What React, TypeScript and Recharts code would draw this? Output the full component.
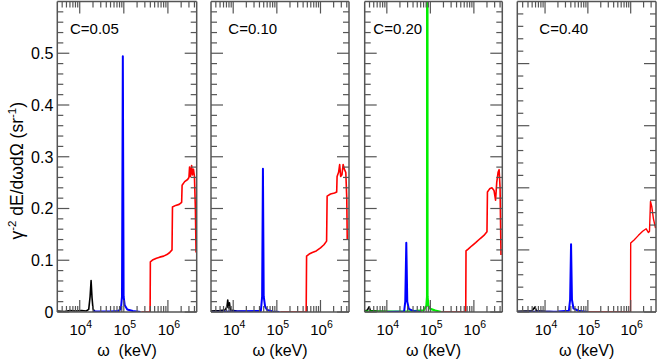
import React from 'react';
import { LineChart, Line, XAxis, YAxis } from 'recharts';

const FONT = '"Liberation Sans", Arial, Helvetica, sans-serif';
const FRAME = '#555555';

type Pt = [number, number];

// ---------- data (omega in keV, y = gamma^-2 dE/dw dOmega) ----------
// C = 0.05
const black005: Pt[] = [[3100, 0.002], [4500, 0.001], [6000, 0.003], [8000, 0.002], [1.1e4, 0.003], [1.4e4, 0.002], [1.6e4, 0.005], [1.72e4, 0.03], [1.81e4, 0.061], [1.9e4, 0.028], [2.0e4, 0.006], [2.2e4, 0.001]];
const blue005: Pt[] = [[2.0e4, 0.001], [5e4, 0.001], [7.5e4, 0.002], [8.6e4, 0.006], [9.1e4, 0.03], [9.5e4, 0.494], [9.9e4, 0.03], [1.05e5, 0.013], [1.2e5, 0.005], [1.6e5, 0.002], [2.4e5, 0.0]];
const red005: Pt[] = [[2.5e5, 0], [3.95e5, 0], [4.0e5, 0.097], [4.6e5, 0.101], [5.5e5, 0.104], [6.5e5, 0.106], [8e5, 0.108], [9.5e5, 0.111], [1.1e6, 0.115], [1.24e6, 0.12], [1.27e6, 0.203], [1.5e6, 0.206], [1.8e6, 0.208], [2.05e6, 0.212], [2.1e6, 0.245], [2.4e6, 0.252], [2.8e6, 0.256], [3.0e6, 0.26], [3.1e6, 0.28], [3.25e6, 0.262], [3.45e6, 0.283], [3.6e6, 0.265], [3.8e6, 0.276], [4.0e6, 0.262], [4.2e6, 0.2], [4.35e6, 0.115]];

// C = 0.10
const black010: Pt[] = [[3100, 0.002], [5e3, 0.003], [6.5e3, 0.004], [7.2e3, 0.01], [7.5e3, 0.023], [7.8e3, 0.008], [8.2e3, 0.018], [8.6e3, 0.004], [1.2e4, 0.002], [2e4, 0.001], [4e4, 0]];
const blue010: Pt[] = [[3100, 0], [1e4, 0.001], [4.3e4, 0.002], [4.6e4, 0.03], [4.8e4, 0.277], [5.0e4, 0.03], [5.4e4, 0.01], [6e4, 0.004], [8e4, 0.001], [1.15e5, 0]];
const red010: Pt[] = [[1.2e5, 0], [4.7e5, 0], [4.8e5, 0.108], [5.5e5, 0.112], [6.5e5, 0.115], [8e5, 0.118], [1e6, 0.124], [1.2e6, 0.13], [1.38e6, 0.137], [1.42e6, 0.224], [1.7e6, 0.228], [2.1e6, 0.23], [2.35e6, 0.232], [2.4e6, 0.262], [2.6e6, 0.27], [2.75e6, 0.285], [2.9e6, 0.262], [3.1e6, 0.265], [3.3e6, 0.285], [3.55e6, 0.275], [3.8e6, 0.27], [4.0e6, 0.22], [4.1e6, 0.14]];

// C = 0.20
const black020: Pt[] = [[3100, 0.002], [3.6e3, 0.004], [3.9e3, 0.01], [4.2e3, 0.003], [6e3, 0.002], [1e4, 0.001], [2e4, 0]];
const blue020: Pt[] = [[1e4, 0], [2.5e4, 0.001], [2.65e4, 0.02], [2.8e4, 0.134], [2.95e4, 0.02], [3.2e4, 0.006], [4e4, 0.002], [6e4, 0]];
const green020: Pt[] = [[3100, 0.001], [3e4, 0.001], [7e4, 0.003], [8.1e4, 0.012], [8.4e4, 0.03], [8.5e4, 3.0], [8.6e4, 0.03], [9.0e4, 0.012], [1e5, 0.006], [1.3e5, 0.003], [1.8e5, 0]];
const red020: Pt[] = [[1.8e5, 0], [6.5e5, 0], [6.6e5, 0.118], [7.5e5, 0.122], [9e5, 0.128], [1.1e6, 0.134], [1.4e6, 0.142], [1.7e6, 0.148], [2.0e6, 0.155], [2.05e6, 0.232], [2.3e6, 0.238], [2.6e6, 0.24], [2.9e6, 0.235], [3.15e6, 0.216], [3.35e6, 0.25], [3.6e6, 0.27], [3.8e6, 0.275], [4.0e6, 0.24], [4.2e6, 0.11]];

// C = 0.40
const black040: Pt[] = [[2250, 0.001], [5e3, 0.002], [5.8e3, 0.008], [6.3e3, 0.002], [1e4, 0.001], [2e4, 0]];
const blue040: Pt[] = [[2250, 0], [2e4, 0.001], [3.6e4, 0.002], [3.85e4, 0.02], [4.05e4, 0.109], [4.25e4, 0.02], [4.6e4, 0.006], [6e4, 0.002], [1e5, 0]];
const red040: Pt[] = [[1e5, 0], [9.9e5, 0], [1.0e6, 0.111], [1.2e6, 0.116], [1.5e6, 0.123], [1.9e6, 0.13], [2.3e6, 0.134], [2.6e6, 0.128], [2.75e6, 0.13], [2.9e6, 0.178], [3.1e6, 0.17], [3.4e6, 0.15], [3.8e6, 0.135]];

// ---------- ticks ----------
const xTicksA = [4e3, 5e3, 6e3, 7e3, 8e3, 9e3, 1e4, 2e4, 3e4, 4e4, 5e4, 6e4, 7e4, 8e4, 9e4, 1e5, 2e5, 3e5, 4e5, 5e5, 6e5, 7e5, 8e5, 9e5, 1e6, 2e6, 3e6, 4e6];
const xTicksB = [3e3, 4e3, 5e3, 6e3, 7e3, 8e3, 9e3, 1e4, 2e4, 3e4, 4e4, 5e4, 6e4, 7e4, 8e4, 9e4, 1e5, 2e5, 3e5, 4e5, 5e5, 6e5, 7e5, 8e5, 9e5, 1e6, 2e6, 3e6];
const yTicksA = [0, 0.02, 0.04, 0.06, 0.08, 0.1, 0.12, 0.14, 0.16, 0.18, 0.2, 0.22, 0.24, 0.26, 0.28, 0.3, 0.32, 0.34, 0.36, 0.38, 0.4, 0.42, 0.44, 0.46, 0.48, 0.5, 0.52, 0.54, 0.56, 0.58];
const yTicksB = [0, 0.02, 0.04, 0.06, 0.08, 0.1, 0.12, 0.14, 0.16, 0.18, 0.2, 0.22, 0.24, 0.26, 0.28, 0.3, 0.32, 0.34, 0.36, 0.38, 0.4, 0.42, 0.44, 0.46, 0.48];
const panelNames = ['C=0.05', 'C=0.10', 'C=0.20', 'C=0.40'];
const xTitles = ['ω  (keV)', 'ω (keV)', 'ω (keV)', 'ω (keV)'];

const rows = (p: Pt[]) => p.map(([x, y]) => ({ x, y }));

type Series = { color: string; width: number; data: Pt[] };

const panels = [
  { name: panelNames[0], title: xTitles[0], left: 57.3, right: 196.7, xDomain: [3100, 4.5e6], yDomain: [0, 0.6], xTicks: xTicksA, yTicks: yTicksA, yLabels: true, cdx: 12.7,
    series: [{ color: '#000000', width: 1.6, data: black005 }, { color: '#0000ff', width: 2, data: blue005 }, { color: '#ff0000', width: 1.6, data: red005 }] as Series[] },
  { name: panelNames[1], title: xTitles[1], left: 211, right: 349, xDomain: [3100, 4.5e6], yDomain: [0, 0.6], xTicks: xTicksA, yTicks: yTicksA, yLabels: false, cdx: 17.3,
    series: [{ color: '#000000', width: 1.6, data: black010 }, { color: '#0000ff', width: 2, data: blue010 }, { color: '#ff0000', width: 1.6, data: red010 }] as Series[] },
  { name: panelNames[2], title: xTitles[2], left: 364.7, right: 502.3, xDomain: [3100, 4.5e6], yDomain: [0, 0.6], xTicks: xTicksA, yTicks: yTicksA, yLabels: false, cdx: 8.6,
    series: [{ color: '#000000', width: 1.6, data: black020 }, { color: '#00ee00', width: 2.2, data: green020 }, { color: '#0000ff', width: 2, data: blue020 }, { color: '#ff0000', width: 1.6, data: red020 }] as Series[] },
  { name: panelNames[3], title: xTitles[3], left: 517.3, right: 656, xDomain: [2250, 3.9e6], yDomain: [0, 0.5], xTicks: xTicksB, yTicks: yTicksB, yLabels: false, cdx: 22,
    series: [{ color: '#000000', width: 1.6, data: black040 }, { color: '#0000ff', width: 2, data: blue040 }, { color: '#ff0000', width: 1.4, data: red040 }] as Series[] },
];

const W = 659;
const H = 360;
const TOP = 1.5;
const BOTTOM = 48;
const AX = 1; // axis band thickness (must be > 0 for recharts to draw the axis)

const isMajorY = (v: number) => Math.abs(v * 10 - Math.round(v * 10)) < 1e-6;
const isMajorX = (v: number) => Math.abs(Math.log10(v) - Math.round(Math.log10(v))) < 1e-6;

const YTick = (props: any) => {
  const { x, y, payload, side, showLabel } = props;
  const v = payload.value as number;
  const major = isMajorY(v);
  const len = major ? 12 : 6;
  const dir = side === 'left' ? 1 : -1;
  return (
    <g>
      <line x1={x} y1={y} x2={x + dir * len} y2={y} stroke={FRAME} strokeWidth={1.2} />
      {showLabel && major && side === 'left' ? (
        <text x={x - 4} y={y} dy="0.36em" textAnchor="end" fontFamily={FONT} fontSize={16} fill="#000">
          {v === 0 ? '0' : v.toFixed(1)}
        </text>
      ) : null}
    </g>
  );
};

const XTick = (props: any) => {
  const { x, y, payload, side } = props;
  const v = payload.value as number;
  const major = isMajorX(v);
  const len = major ? 12 : 6;
  const dir = side === 'bottom' ? -1 : 1;
  return (
    <g>
      <line x1={x} y1={y} x2={x} y2={y + dir * len} stroke={FRAME} strokeWidth={1.2} />
      {major && side === 'bottom' ? (
        <text x={x + 1} y={y + 23} textAnchor="middle" fontFamily={FONT} fontSize={15} fill="#000">
          10<tspan dy={-7} fontSize={10.5}>{Math.round(Math.log10(v))}</tspan>
        </text>
      ) : null}
    </g>
  );
};

const XTitle = (text: string) => (props: any) => {
  const vb = props.viewBox || {};
  return (
    <text x={vb.x + vb.width / 2} y={vb.y + 44} textAnchor="middle" fontFamily={FONT} fontSize={16} fill="#000" style={{ whiteSpace: 'pre' }}>
      {text}
    </text>
  );
};

const CLabel = (text: string, dx: number) => (props: any) => {
  const vb = props.viewBox || {};
  return (
    <text x={vb.x + dx} y={vb.y + vb.height + 32} fontFamily={FONT} fontSize={15} fill="#000">
      {text}
    </text>
  );
};

const YTitle = (props: any) => {
  const vb = props.viewBox || {};
  const cx = vb.x + vb.width - 34;
  const cy = vb.y + vb.height / 2 + 14;
  return (
    <text x={cx} y={cy} transform={`rotate(-90, ${cx}, ${cy})`} textAnchor="middle" fontFamily={FONT} fontSize={17.5} fill="#000" style={{ whiteSpace: 'pre' }}>
      γ<tspan dy={-7} fontSize={11.5}>-2</tspan>
      <tspan dy={7}> dE/dωdΩ (sr</tspan>
      <tspan dy={-7} fontSize={11.5}>-1</tspan>
      <tspan dy={7}>)</tspan>
    </text>
  );
};

const Panel = ({ p }: { p: (typeof panels)[number] }) => (
  <div style={{ position: 'absolute', left: 0, top: 0 }}>
    <LineChart width={W} height={H} margin={{ top: TOP - AX, bottom: BOTTOM - AX, left: p.left - AX, right: W - p.right - AX }}>
      <XAxis
        xAxisId="b" dataKey="x" type="number" scale="log" domain={p.xDomain} allowDataOverflow
        ticks={p.xTicks} interval={0} orientation="bottom" height={AX} tickSize={0} tickMargin={0}
        tickLine={false} axisLine={{ stroke: FRAME, strokeWidth: 1.5 }}
        tick={(tp: any) => <XTick {...tp} side="bottom" />}
        label={{ content: XTitle(p.title) }}
      />
      <XAxis
        xAxisId="t" dataKey="x" type="number" scale="log" domain={p.xDomain} allowDataOverflow
        ticks={p.xTicks} interval={0} orientation="top" height={AX} tickSize={0} tickMargin={0}
        tickLine={false} axisLine={{ stroke: FRAME, strokeWidth: 1.5 }}
        tick={(tp: any) => <XTick {...tp} side="top" />}
        label={{ content: CLabel(p.name, p.cdx) }}
      />
      <YAxis
        yAxisId="l" type="number" domain={p.yDomain} allowDataOverflow ticks={p.yTicks} interval={0}
        orientation="left" width={AX} tickSize={0} tickMargin={0} tickLine={false}
        axisLine={{ stroke: FRAME, strokeWidth: 1.5 }}
        tick={(tp: any) => <YTick {...tp} side="left" showLabel={p.yLabels} />}
        label={p.yLabels ? { content: YTitle } : undefined}
      />
      <YAxis
        yAxisId="r" type="number" domain={p.yDomain} allowDataOverflow ticks={p.yTicks} interval={0}
        orientation="right" width={AX} tickSize={0} tickMargin={0} tickLine={false}
        axisLine={{ stroke: FRAME, strokeWidth: 1.5 }}
        tick={(tp: any) => <YTick {...tp} side="right" showLabel={false} />}
      />
      {p.series.map((s, i) => (
        <Line
          key={i} xAxisId="b" yAxisId="l" data={rows(s.data)} dataKey="y" type="linear"
          stroke={s.color} strokeWidth={s.width} dot={false} activeDot={false}
          isAnimationActive={false} strokeLinejoin="round"
        />
      ))}
    </LineChart>
  </div>
);

export default function App() {
  return (
    <div style={{ position: 'absolute', left: 0, top: 0, width: W, height: H, background: '#fff' }}>
      {panels.map((p, i) => (
        <Panel key={i} p={p} />
      ))}
    </div>
  );
}
